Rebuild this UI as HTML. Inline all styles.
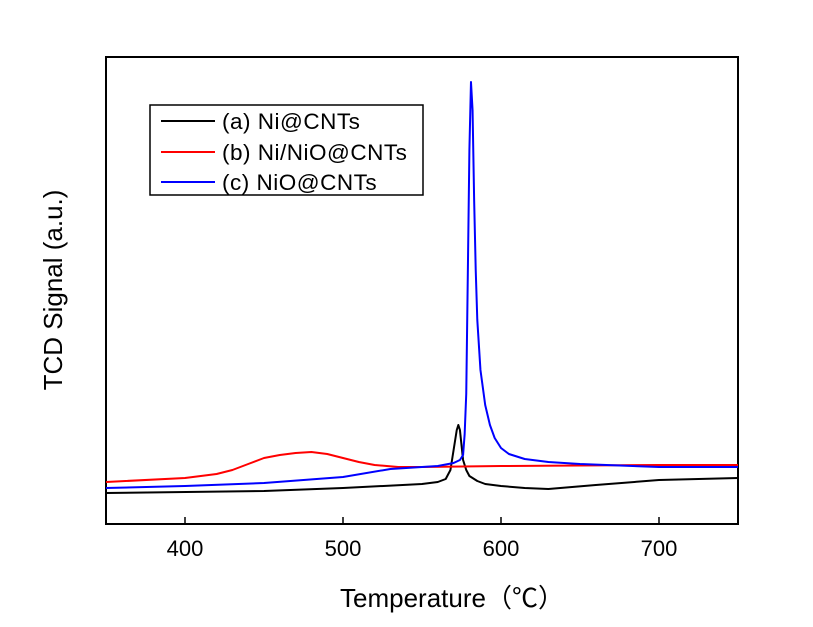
<!DOCTYPE html>
<html><head><meta charset="utf-8"><style>
body{margin:0;background:#fff}
svg text{font-family:"Liberation Sans","Noto Sans CJK SC",sans-serif}
</style></head><body>
<svg id="chart" width="813" height="622">
<rect x="106" y="57" width="632" height="467" fill="none" stroke="#000" stroke-width="2"/>
<g id="xticks"></g>
<g id="series"></g>
<text x="62" y="290" font-size="26" text-anchor="middle" transform="rotate(-90 62 290)">TCD Signal (a.u.)</text>
<text x="452" y="607" font-size="26" text-anchor="middle">Temperature（℃）</text>
<g>
<rect x="150" y="105" width="273" height="90" fill="#fff" stroke="#000" stroke-width="1.5"/>
<line x1="161" y1="121" x2="215" y2="121" stroke="#000" stroke-width="2"/>
<text x="222" y="129" font-size="22.5" letter-spacing="0.5">(a) Ni@CNTs</text>
<line x1="161" y1="152" x2="215" y2="152" stroke="#f00" stroke-width="2"/>
<text x="222" y="160" font-size="22.5" letter-spacing="0.5">(b) Ni/NiO@CNTs</text>
<line x1="161" y1="182" x2="215" y2="182" stroke="#00f" stroke-width="2"/>
<text x="222" y="190" font-size="22.5" letter-spacing="0.5">(c) NiO@CNTs</text>
</g>
</svg>
<script>
const xTicks=[400,500,600,700];
const tA=[350,450,500,550,560,565,568,570,572,573,574,576,578,580,585,590,600,615,630,660,700,750];
const vA=[31,33,36,40,42,45,54,74,94,99,94,64,54,48,43,40,38,36,35,39,44,46];
const tB=[350,400,410,420,430,440,450,460,470,480,490,500,510,520,535,550,600,700,750];
const vB=[42,46,48,50,54,60,66,69,71,72,70,66,62,59,57,57,58,59,59];
const tC=[350,400,450,500,530,560,570,574,576,577,578,579,580,581,582,583,584,585,587,590,593,596,600,605,615,630,650,700,750];
const vC=[36,38,41,47,55,58,61,64,69,90,130,250,374,442,414,324,254,204,154,119,99,86,76,70,65,62,60,57,57];
const L=106,R=738,T=57,B=524,xmin=350,xmax=750,ymax=467;
const xs=v=>L+(v-xmin)/(xmax-xmin)*(R-L);
const ys=v=>B-v/ymax*(B-T);
const NS="http://www.w3.org/2000/svg";
const gx=document.getElementById('xticks');
xTicks.forEach(t=>{
 const l=document.createElementNS(NS,'line');
 l.setAttribute('x1',xs(t));l.setAttribute('x2',xs(t));l.setAttribute('y1',B);l.setAttribute('y2',B-7);
 l.setAttribute('stroke','#000');l.setAttribute('stroke-width','1.5');
 
 
 gx.appendChild(l);
 const tx=document.createElementNS(NS,'text');
 tx.setAttribute('x',xs(t));tx.setAttribute('y',B+32);tx.setAttribute('font-size','22');tx.setAttribute('text-anchor','middle');
 tx.textContent=t;
 
 
 gx.appendChild(tx);
});
const gs=document.getElementById('series');
[[tA,vA,'#000','series-a-line'],[tB,vB,'#f00','series-b-line'],[tC,vC,'#00f','series-c-line']].forEach(s=>{
 const p=document.createElementNS(NS,'polyline');
 p.setAttribute('points',s[0].map((t,i)=>xs(t)+','+ys(s[1][i])).join(' '));
 p.setAttribute('fill','none');p.setAttribute('stroke',s[2]);p.setAttribute('stroke-width','2');
 p.setAttribute('stroke-linejoin','round');
 
 
 gs.appendChild(p);
});
</script>
</body></html>
